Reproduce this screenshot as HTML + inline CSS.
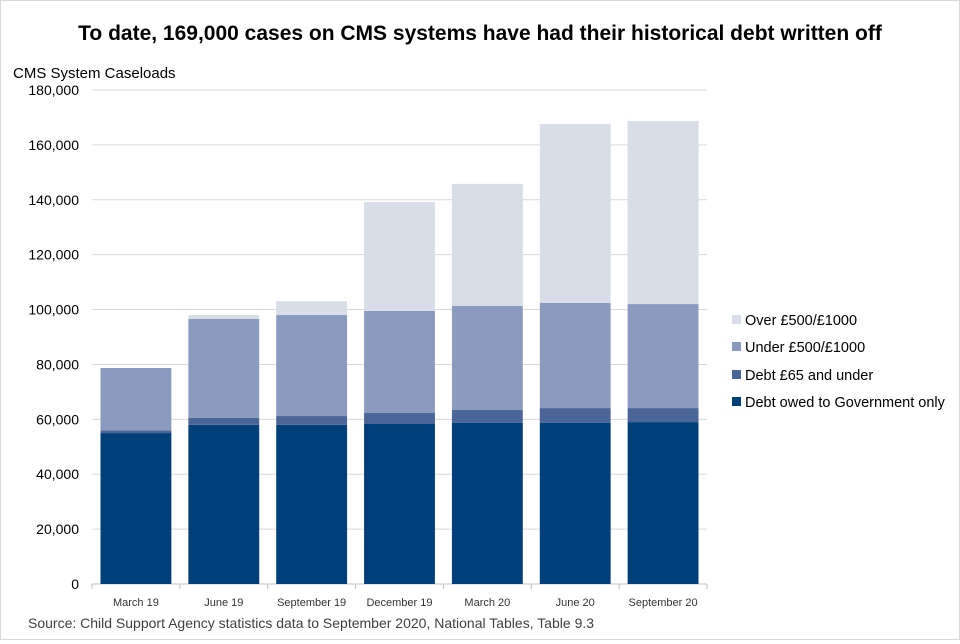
<!DOCTYPE html>
<html><head><meta charset="utf-8"><style>
body{margin:0;background:#fff;}
#wrap{position:relative;width:958px;height:638px;border:1px solid #d9d9d9;font-family:"Liberation Sans",sans-serif;}
svg text{font-family:"Liberation Sans",sans-serif;}
</style></head><body>
<div id="wrap">
<svg id="chart" width="958" height="638"></svg>
</div>
<script>
const categories=["March 19","June 19","September 19","December 19","March 20","June 20","September 20"];
const govOnly=[55.0,58.0,58.0,58.3,58.7,58.7,59.0];
const debt65=[1.0,2.5,3.2,4.0,4.7,5.4,5.1];
const under500=[22.7,36.1,36.8,37.2,37.9,38.3,37.9];
const over500=[0,1.4,5.0,39.7,44.5,65.2,66.7];
const yTicks=[0,20000,40000,60000,80000,100000,120000,140000,160000,180000];
const seriesNames=["Over £500/£1000","Under £500/£1000","Debt £65 and under","Debt owed to Government only"];
const NS="http://www.w3.org/2000/svg";
const svg=document.getElementById('chart');
function mk(t,a,p){const e=document.createElementNS(NS,t);for(const k in a)e.setAttribute(k,a[k]);(p||svg).appendChild(e);return e;}
const x0=91,x1=706,y0=583,yTop=89,yMax=180000;
function y(v){return y0-(v/yMax)*(y0-yTop);}
const cw=(x1-x0)/categories.length;
function xc(i){return x0+cw*i;}
let t=mk('text',{x:479,y:39,'text-anchor':'middle','font-size':21,'font-weight':'bold',fill:'#000'});t.textContent="To date, 169,000 cases on CMS systems have had their historical debt written off";


t=mk('text',{x:12,y:77,'font-size':15,fill:'#000'});t.textContent="CMS System Caseloads";


yTicks.forEach(v=>{
 if(v>0){const l=mk('line',{x1:x0,x2:x1,y1:y(v),y2:y(v),stroke:'#d9d9d9','stroke-width':1});
 
 }
 const tx=mk('text',{x:78,y:y(v)+5,'text-anchor':'end','font-size':14,fill:'#000'});tx.textContent=v.toLocaleString('en-US');
 
 
});
const ax=mk('line',{x1:x0,x2:x1,y1:y0,y2:y0,stroke:'#bfbfbf'});


for(let i=0;i<=categories.length;i++){const tk=mk('line',{x1:xc(i),x2:xc(i),y1:y0,y2:y0+5,stroke:'#bfbfbf'});

}
const series=[govOnly,debt65,under500,over500];
const colors=['#003f7a','#4a6597','#8a9bbf','#d8dde8'];
const names=['gov','debt65','under500','over500'];
categories.forEach((c,i)=>{
 let base=0;
 series.forEach((s,k)=>{
  const v=s[i]*1000;
  const r=mk('rect',{x:xc(i)+8.5,width:cw-17,y:y(base+v),height:y(base)-y(base+v),fill:colors[k]});
  
  
  base+=v;
 });
 const lt=mk('text',{x:xc(i)+cw/2,y:605,'text-anchor':'middle','font-size':11,fill:'#333'});lt.textContent=c;
 
 
});
const legY=[319,346,374,401];const legC=[colors[3],colors[2],colors[1],colors[0]];
seriesNames.forEach((n,i)=>{
 const r=mk('rect',{x:731,y:legY[i]-5,width:9,height:9,fill:legC[i]});
 
 
 const tx=mk('text',{x:744,y:legY[i]+5,'font-size':14.5,fill:'#000'});tx.textContent=n;
 
 
});
t=mk('text',{x:27,y:627,'font-size':14,fill:'#404040'});t.textContent="Source: Child Support Agency statistics data to September 2020, National Tables, Table 9.3";


</script>
</body></html>
